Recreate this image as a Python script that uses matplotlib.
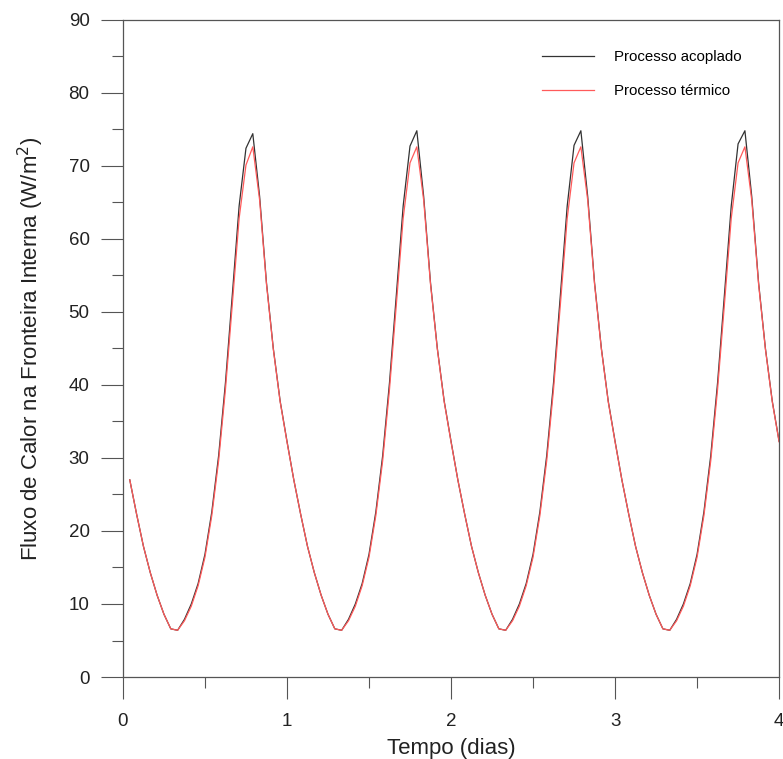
import numpy as np
import matplotlib.pyplot as plt

plt.rcParams['font.family'] = ['Liberation Sans', 'DejaVu Sans']

# hourly values, hour 1 .. 96 (4 days)
horas = list(range(1, 97))

acoplado = [
    27.0, 22.3, 17.9, 14.3, 11.2, 8.6, 6.6, 6.4, 7.9, 10.0, 12.8, 16.8,
    22.6, 30.3, 40.3, 52.3, 64.5, 72.4, 74.4, 65.8, 54.0, 45.0, 37.8, 32.3,
    27.0, 22.3, 17.9, 14.3, 11.2, 8.6, 6.6, 6.4, 7.9, 10.0, 12.8, 16.8,
    22.6, 30.3, 40.3, 52.3, 64.5, 72.7, 74.8, 65.8, 54.0, 45.0, 37.8, 32.3,
    27.0, 22.3, 17.9, 14.3, 11.2, 8.6, 6.6, 6.4, 7.9, 10.0, 12.8, 16.8,
    22.6, 30.3, 40.3, 52.3, 64.5, 72.8, 74.8, 65.8, 54.0, 45.0, 37.8, 32.3,
    27.0, 22.3, 17.9, 14.3, 11.2, 8.6, 6.6, 6.4, 7.9, 10.0, 12.8, 16.8,
    22.6, 30.3, 40.3, 52.3, 64.5, 73.0, 74.8, 65.8, 54.0, 45.0, 37.8, 32.3,
]

termico = [
    27.0, 22.3, 17.9, 14.3, 11.2, 8.6, 6.6, 6.4, 7.7, 9.7, 12.5, 16.4,
    22.1, 29.6, 39.4, 51.0, 62.8, 70.1, 72.6, 65.3, 53.8, 44.9, 37.7, 32.2,
    27.0, 22.3, 17.9, 14.3, 11.2, 8.6, 6.6, 6.4, 7.7, 9.7, 12.5, 16.4,
    22.1, 29.6, 39.4, 51.0, 62.8, 70.4, 72.6, 65.3, 53.8, 44.9, 37.7, 32.2,
    27.0, 22.3, 17.9, 14.3, 11.2, 8.6, 6.6, 6.4, 7.7, 9.7, 12.5, 16.4,
    22.1, 29.6, 39.4, 51.0, 62.8, 70.4, 72.6, 65.3, 53.8, 44.9, 37.7, 32.2,
    27.0, 22.3, 17.9, 14.3, 11.2, 8.6, 6.6, 6.4, 7.7, 9.7, 12.5, 16.4,
    22.1, 29.6, 39.4, 51.0, 62.8, 70.4, 72.6, 65.3, 53.8, 44.9, 37.7, 32.2,
]

tempo = np.array(horas) / 24.0

fig = plt.figure(figsize=(7.83, 7.59), dpi=100)
ax = fig.add_axes([0.157, 0.108, 0.838, 0.866])

ax.plot(tempo, acoplado, color='#333333', lw=0.9, label='Processo acoplado')
ax.plot(tempo, termico, color='#ff5a5a', lw=0.9, label='Processo térmico')

ax.set_xlim(0, 4)
ax.set_ylim(0, 90)
ax.set_xticks([0, 1, 2, 3, 4])
ax.set_xticks([0.5, 1.5, 2.5, 3.5], minor=True)
ax.set_yticks(range(0, 91, 10))
ax.set_yticks(range(5, 90, 10), minor=True)

for s in ax.spines.values():
    s.set_color('#555555')
    s.set_linewidth(0.9)

ax.tick_params(which='major', direction='out', length=16, width=0.8,
               color='#555555', labelsize=13.5, pad=8, labelcolor='#222222')
ax.tick_params(axis='x', which='major', pad=10)
ax.tick_params(which='minor', direction='out', length=8, width=0.8,
               color='#555555')
ax.tick_params(top=False, right=False)

ax.set_xlabel('Tempo (dias)', fontsize=16, color='#222222', labelpad=6)
ax.set_ylabel('Fluxo de Calor na Fronteira Interna (W/m$^2$)', fontsize=16,
              color='#222222', labelpad=16)

leg = ax.legend(loc='upper left', bbox_to_anchor=(0.618, 0.974), frameon=False,
                fontsize=10.8, handlelength=3.5, handletextpad=1.3,
                labelspacing=1.3)

fig.savefig('out.png', dpi=100)
